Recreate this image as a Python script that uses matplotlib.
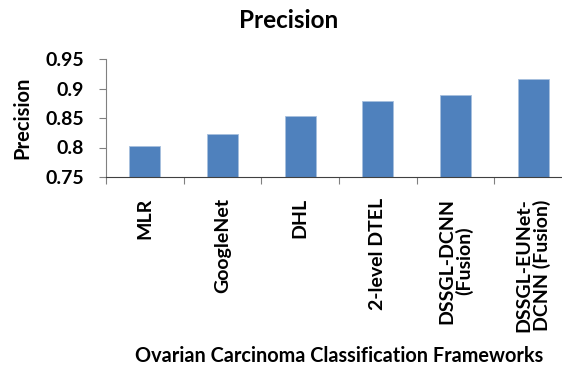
import matplotlib
matplotlib.use("Agg")
import matplotlib.pyplot as plt
from matplotlib.transforms import ScaledTranslation

plt.rcParams['font.family'] = ['Lato', 'DejaVu Sans']
plt.rcParams['font.weight'] = 'bold'

frameworks = ['MLR', 'GoogleNet', 'DHL', '2-level DTEL',
              'DSSGL-DCNN\n(Fusion)', 'DSSGL-EUNet-\nDCNN (Fusion)']
precision = [0.802, 0.823, 0.854, 0.879, 0.889, 0.916]
yticks = [0.75, 0.8, 0.85, 0.9, 0.95]
ytick_labels = ['0.75', '0.8', '0.85', '0.9', '0.95']

W, H = 562, 365
fig = plt.figure(figsize=(W / 100, H / 100), dpi=100)
# plot area runs a bit past the right edge, as in the original
ax = fig.add_axes([106 / W, 1 - 177 / H, (572 - 106) / W, (177 - 59) / H])

ind = list(range(len(frameworks)))
ax.bar(ind, precision, 0.4, color='#4F81BD', edgecolor='#A7BFDE', linewidth=0.6)

ax.set_ylim(0.75, 0.95)
ax.set_xlim(-0.5, len(ind) - 0.5)
ax.set_yticks(yticks)
ax.set_yticklabels(ytick_labels, fontsize=14, fontweight='bold')

# category ticks at the boundaries, labels at the centres
ax.set_xticks([i - 0.5 for i in ind] + [len(ind) - 0.5])
ax.set_xticklabels([])
ax.tick_params(axis='x', length=5, width=0.8, color='#808080', direction='out')
ax.tick_params(axis='y', length=5, width=0.8, color='#808080', direction='out', pad=11)

shift = ax.transData + ScaledTranslation(0, -21 / 100, fig.dpi_scale_trans)
for i, name in zip(ind, frameworks):
    ax.text(i, 0.75, name, rotation=90, ha='center', va='top', fontsize=14,
            fontweight='bold', multialignment='center', linespacing=1.0,
            transform=shift)

for s in ['top', 'right']:
    ax.spines[s].set_visible(False)
ax.spines['left'].set_color('#808080')
ax.spines['bottom'].set_color('#404040')

fig.text(288.5 / W, 1 - 20 / H, 'Precision', ha='center', va='center', fontsize=17.5, fontweight='bold')
fig.text(22 / W, 1 - 118 / H, 'Precision', ha='center', va='center', rotation=90,
         fontsize=14.5, fontweight='bold')
fig.text(339 / W, 1 - 356 / H, 'Ovarian Carcinoma Classification Frameworks',
         ha='center', va='center', fontsize=14.3, fontweight='bold')

fig.savefig('out.png', dpi=100)
